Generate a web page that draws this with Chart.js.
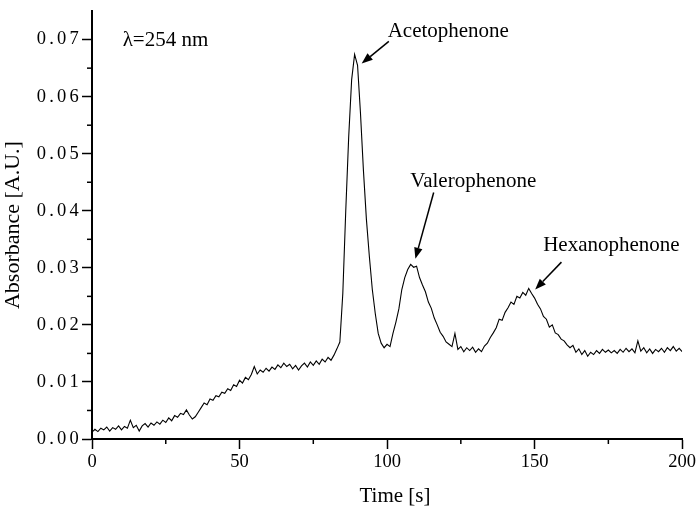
<!DOCTYPE html>
<html>
<head>
<meta charset="utf-8">
<script src="https://cdn.jsdelivr.net/npm/chart.js@4/dist/chart.umd.min.js"></script>
<style>
  html, body { margin: 0; padding: 0; background: #ffffff; }
  #wrap { width: 698px; height: 509px; }
</style>
</head>
<body>
<div id="wrap"><canvas id="c" width="698" height="509"></canvas></div>
<script>
// ---- data ----
const times = [
  0,1,2,3,4,5,6,7,8,9,10,11,12,13,14,15,16,17,18,19,
  20,21,22,23,24,25,26,27,28,29,30,31,32,33,34,35,36,37,38,39,
  40,41,42,43,44,45,46,47,48,49,50,51,52,53,54,55,56,57,58,59,
  60,61,62,63,64,65,66,67,68,69,70,71,72,73,74,75,76,77,78,79,
  80,81,82,83,84,85,86,87,88,89,90,91,92,93,94,95,96,97,98,99,
  100,101,102,103,104,105,106,107,108,109,110,111,112,113,114,115,116,117,118,119,
  120,121,122,123,124,125,126,127,128,129,130,131,132,133,134,135,136,137,138,139,
  140,141,142,143,144,145,146,147,148,149,150,151,152,153,154,155,156,157,158,159,
  160,161,162,163,164,165,166,167,168,169,170,171,172,173,174,175,176,177,178,179,
  180,181,182,183,184,185,186,187,188,189,190,191,192,193,194,195,196,197,198,199,
  200
];
const absorbance = [
  0.0012,0.0017,0.0013,0.0019,0.0016,0.0021,0.0014,0.0020,0.0017,0.0023,
  0.0016,0.0022,0.0019,0.0033,0.0020,0.0024,0.0014,0.0023,0.0027,0.0021,
  0.0028,0.0024,0.0030,0.0026,0.0033,0.0029,0.0037,0.0032,0.0041,0.0038,
  0.0045,0.0043,0.0051,0.0042,0.0035,0.0039,0.0047,0.0055,0.0063,0.0060,
  0.0070,0.0068,0.0076,0.0074,0.0082,0.0080,0.0088,0.0085,0.0095,0.0092,
  0.0103,0.0098,0.0108,0.0104,0.0113,0.0127,0.0114,0.0121,0.0117,0.0124,
  0.0119,0.0126,0.0122,0.0130,0.0125,0.0133,0.0127,0.0131,0.0123,0.0129,
  0.0121,0.0128,0.0133,0.0126,0.0135,0.0129,0.0137,0.0131,0.0140,0.0135,
  0.0143,0.0138,0.0147,0.0158,0.0170,0.0255,0.0400,0.0530,0.0630,0.0674,
  0.0655,0.0570,0.0470,0.0385,0.0320,0.0262,0.0220,0.0185,0.0168,0.0160,
  0.0166,0.0162,0.0185,0.0205,0.0228,0.0262,0.0283,0.0297,0.0306,0.0301,
  0.0303,0.0283,0.0270,0.0258,0.0240,0.0229,0.0212,0.0200,0.0187,0.0180,
  0.0170,0.0166,0.0162,0.0185,0.0157,0.0162,0.0153,0.0160,0.0155,0.0161,
  0.0152,0.0158,0.0153,0.0163,0.0168,0.0178,0.0186,0.0195,0.0210,0.0208,
  0.0222,0.0230,0.0240,0.0236,0.0250,0.0247,0.0257,0.0252,0.0264,0.0255,
  0.0247,0.0236,0.0228,0.0215,0.0210,0.0196,0.0200,0.0186,0.0183,0.0175,
  0.0172,0.0165,0.0160,0.0164,0.0152,0.0158,0.0148,0.0155,0.0145,0.0152,
  0.0148,0.0155,0.0150,0.0157,0.0152,0.0156,0.0151,0.0155,0.0150,0.0157,
  0.0152,0.0159,0.0153,0.0158,0.0151,0.0172,0.0154,0.0160,0.0151,0.0158,
  0.0150,0.0157,0.0153,0.0159,0.0152,0.0160,0.0155,0.0162,0.0154,0.0159,
  0.0153
];
const xTickValues = [0, 50, 100, 150, 200];
const yTickValues = [0.00, 0.01, 0.02, 0.03, 0.04, 0.05, 0.06, 0.07];
const xTitle = 'Time [s]';
const yTitle = 'Absorbance [A.U.]';
const wavelengthLabel = '\u03BB=254 nm';
const peakNames = ['Acetophenone', 'Valerophenone', 'Hexanophenone'];

// ---- annotation placement (data coordinates) ----
const labelAnchors = [
  { x: 100.2, y: 0.0705 },
  { x: 107.9, y: 0.0441 },
  { x: 152.9, y: 0.0330 }
];
const arrowTails = [ { x: 100.6, y: 0.0697 }, { x: 115.8, y: 0.0432 }, { x: 159.1, y: 0.0310 } ];
const arrowTips  = [ { x: 91.4,  y: 0.0658 }, { x: 109.6, y: 0.0316 }, { x: 150.2, y: 0.0262 } ];
const wavelengthAnchor = { x: 10.4, y: 0.0689 };
const xTitleCenter = 102.7;

const SERIF = '"Liberation Serif", "Times New Roman", Times, serif';

const styler = {
  id: 'styler',
  beforeDraw(chart) {
    const ys = chart.scales.y;
    if (ys && !ys._spaced) {
      const orig = ys.drawLabels.bind(ys);
      ys.drawLabels = function (area) {
        const ctx = chart.ctx;
        ctx.save();
        ctx.letterSpacing = '3.2px';
        orig(area);
        ctx.restore();
      };
      ys._spaced = true;
    }
  },
  afterDraw(chart) {
    const ctx = chart.ctx;
    const xs = chart.scales.x, ys = chart.scales.y;
    ctx.save();
    // minor ticks
    ctx.strokeStyle = '#000';
    ctx.lineWidth = 1.5;
    const yt = ys.ticks.map(t => t.value);
    for (let i = 0; i < yt.length - 1; i++) {
      const py = ys.getPixelForValue((yt[i] + yt[i + 1]) / 2);
      ctx.beginPath();
      ctx.moveTo(ys.right - 5, py);
      ctx.lineTo(ys.right, py);
      ctx.stroke();
    }
    const xt = xs.ticks.map(t => t.value);
    for (let i = 0; i < xt.length - 1; i++) {
      const px = xs.getPixelForValue((xt[i] + xt[i + 1]) / 2);
      ctx.beginPath();
      ctx.moveTo(px, xs.top);
      ctx.lineTo(px, xs.top + 5);
      ctx.stroke();
    }
    // x axis title
    ctx.fillStyle = '#000';
    ctx.font = '21px ' + SERIF;
    ctx.textAlign = 'center';
    ctx.textBaseline = 'alphabetic';
    ctx.fillText(xTitle, xs.getPixelForValue(xTitleCenter), 502);
    // annotations
    ctx.font = '21px ' + SERIF;
    ctx.textAlign = 'left';
    ctx.fillText(wavelengthLabel, xs.getPixelForValue(wavelengthAnchor.x), ys.getPixelForValue(wavelengthAnchor.y));
    for (let i = 0; i < peakNames.length; i++) {
      ctx.fillText(peakNames[i], xs.getPixelForValue(labelAnchors[i].x), ys.getPixelForValue(labelAnchors[i].y));
      const x1 = xs.getPixelForValue(arrowTails[i].x), y1 = ys.getPixelForValue(arrowTails[i].y);
      const x2 = xs.getPixelForValue(arrowTips[i].x), y2 = ys.getPixelForValue(arrowTips[i].y);
      const ang = Math.atan2(y2 - y1, x2 - x1);
      const hl = 11, hw = 4.2;
      const bx = x2 - hl * Math.cos(ang), by = y2 - hl * Math.sin(ang);
      ctx.lineWidth = 1.5;
      ctx.beginPath();
      ctx.moveTo(x1, y1);
      ctx.lineTo(bx, by);
      ctx.stroke();
      ctx.beginPath();
      ctx.moveTo(x2, y2);
      ctx.lineTo(bx + hw * Math.sin(ang), by - hw * Math.cos(ang));
      ctx.lineTo(bx - hw * Math.sin(ang), by + hw * Math.cos(ang));
      ctx.closePath();
      ctx.fill();
    }
    ctx.restore();
  }
};

const onlyListed = (list) => (scale) => {
  scale.ticks = list.map(v => ({ value: v }));
};

new Chart(document.getElementById('c'), {
  type: 'line',
  data: {
    datasets: [{
      data: times.map((t, i) => ({ x: t, y: absorbance[i] })),
      borderColor: '#000',
      borderWidth: 1.1,
      pointRadius: 0,
      tension: 0,
      fill: false
    }]
  },
  options: {
    responsive: false,
    animation: false,
    devicePixelRatio: 1,
    layout: { padding: { top: 2, right: 13, bottom: 0, left: 0 } },
    plugins: { legend: { display: false }, tooltip: { enabled: false } },
    scales: {
      x: {
        type: 'linear',
        min: 0, max: 200,
        afterBuildTicks: onlyListed(xTickValues),
        afterFit: (s) => { s.height = 70; },
        border: { display: true, color: '#000', width: 2 },
        grid: { drawOnChartArea: false, drawTicks: true, tickLength: 10, tickColor: '#000', tickWidth: 1.5 },
        ticks: { color: '#000', font: { family: SERIF, size: 18.5 }, padding: 2, maxRotation: 0, callback: (v) => String(v) },
        title: { display: false, text: xTitle }
      },
      y: {
        type: 'linear',
        min: 0, max: 0.075,
        afterBuildTicks: onlyListed(yTickValues),
        afterFit: (s) => { s.width = 92; },
        border: { display: true, color: '#000', width: 2 },
        grid: { drawOnChartArea: false, drawTicks: true, tickLength: 10, tickColor: '#000', tickWidth: 1.5 },
        ticks: { color: '#000', font: { family: SERIF, size: 18.5 }, padding: 0, callback: (v) => v.toFixed(2) },
        title: { display: true, text: yTitle, color: '#000', font: { family: SERIF, size: 22 }, padding: { top: 0, bottom: 0 } }
      }
    }
  },
  plugins: [styler]
});
</script>
</body>
</html>
